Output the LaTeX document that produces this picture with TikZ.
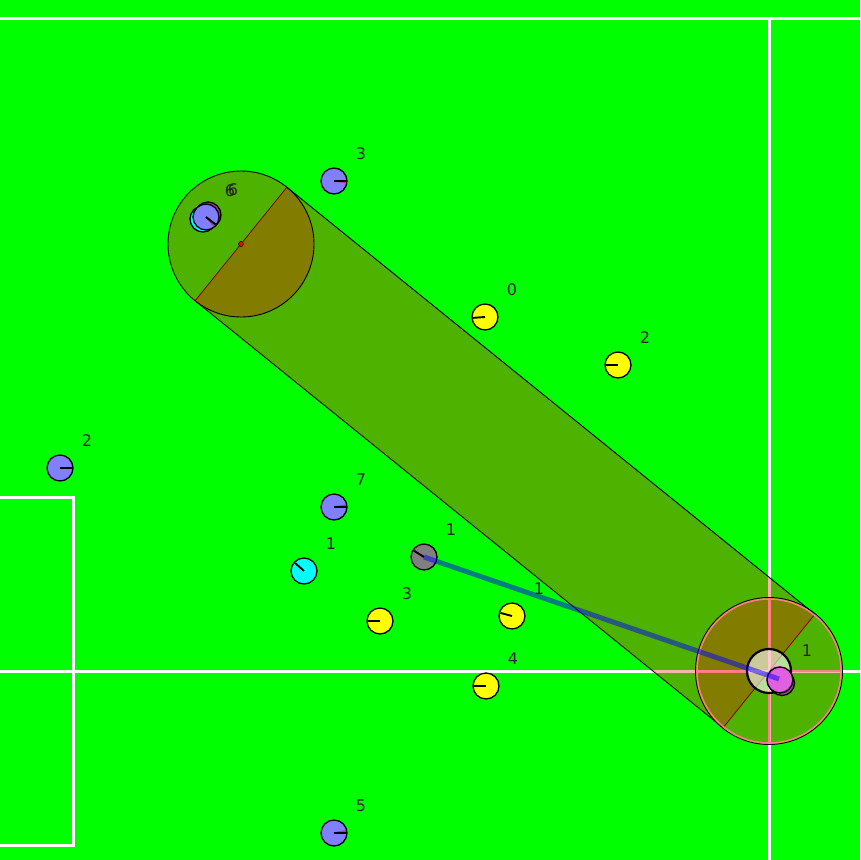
\documentclass[tikz,border=0pt]{standalone}
\usepackage{fontspec}
\setsansfont{DejaVu Sans}
\usetikzlibrary{calc}
\definecolor{pitch}{HTML}{00FF00}
\definecolor{mate}{HTML}{8080FF}
\definecolor{foe}{HTML}{FFFF00}
\definecolor{keeper}{HTML}{00FFFF}
\definecolor{ghost}{HTML}{808080}
\definecolor{salmon}{HTML}{FF8080}
\definecolor{plum}{HTML}{A040A0}
\definecolor{pinky}{HTML}{E060E0}
\definecolor{rim}{HTML}{800000}
\tikzset{fieldline/.style={white,line width=3pt},bot/.style={circle,draw=black,line width=1.3pt,minimum size=26pt,inner sep=0pt},zone/.style={red,opacity=.3},tag/.style={font=\sffamily\fontsize{16}{16}\selectfont,text=black!85},head/.style={line width=1.9pt},aim/.style={line width=1.7pt,plum}}

\begin{document}
\begin{tikzpicture}[x=1pt,y=-1pt]
\fill[pitch] (0,0) rectangle (860,860);
\useasboundingbox (0,0) rectangle (860,860);
% field markings
\draw[fieldline] (0,18) -- (860,18);
\draw[fieldline] (769,18) -- (769,860);
\draw[fieldline] (0,671) -- (860,671);
\draw[fieldline] (0,497) -- (73,497) -- (73,845) -- (0,845);
% pass corridor
\coordinate (from) at (241,244);
\coordinate (to) at (769,671);
\coordinate (fa) at ($(from)!73pt!90:(to)$);
\coordinate (fb) at ($(from)!73pt!-90:(to)$);
\coordinate (ta) at ($(to)!73pt!-90:(from)$);
\coordinate (tb) at ($(to)!73pt!90:(from)$);
\fill[zone] (fa) -- (ta) -- (tb) -- (fb) -- cycle;
\fill[zone] (from) circle (73pt);
\fill[zone] (to) circle (73pt);
\draw[line width=.9pt] (fa) -- (ta) (fb) -- (tb);
\draw[line width=.9pt] (from) circle (73pt) (to) circle (73.5pt);
\draw[rim,line width=.8pt] (fa) -- (fb) (ta) -- (tb);
% target marker
\draw[salmon,line width=2.5pt] ($(to)+(-72,0)$) -- ($(to)+(72,0)$) ($(to)+(0,-72)$) -- ($(to)+(0,72)$);
\draw[salmon,line width=1.5pt] (to) circle (72pt);
\fill[white,opacity=.6] (to) circle (22pt);
\draw[line width=2.2pt] (to) circle (22pt);
\node[circle,fill=red,draw=black,inner sep=0pt,minimum size=5pt,line width=.5pt] (spot) at (from) {};
% robots
\draw[line width=1.3pt,fill=plum] (208,215) circle (13pt);
\draw[line width=1.3pt,fill=keeper] (203,219) circle (13pt);
\draw[line width=1.3pt,fill=plum] (782,683) circle (12.5pt);
\node[bot,fill=pinky,draw=none] (pk) at (779,679) {};
\draw[line width=1.3pt] (780,680) circle (13pt);
\foreach \n/\x/\y/\c/\a/\t in {b3/334/181/mate/0/3,b2/60/468/mate/0/2,b7/334/507/mate/0/7,b5/334/833/mate/0/5,b6/206/217/mate/-38/6,k1/304/571/keeper/138/1,g1/424/557/ghost/148/1,y0/485/317/foe/184/0,y2/618/365/foe/180/2,y3/380/621/foe/180/3,y1/512/616/foe/165/1,y4/486/686/foe/180/4}{
\node[bot,fill=\c] (\n) at (\x,\y) {};
\node[tag] (\n t) at ($(\n)+(27,-27)$) {\t};
}
\foreach \n/\a in {b3/-6,b7/8,b5/10,b6/-48}{\draw[aim] (\n.center) -- ++(\a:12pt);}
\foreach \n/\a in {b3/0,b2/0,b7/0,b5/0,b6/-38,k1/138,g1/148,y0/184,y2/180,y3/180,y1/165,y4/180}{\draw[head] (\n.center) -- ++(\a:12pt);}
\node[tag] (b6u) at (230,191) {6};
\node[tag] (pkt) at (807,651) {1};
% pass line
\draw[blue,opacity=.5,line width=5pt] (g1.center) -- (pk.center);
\end{tikzpicture}
\end{document}
